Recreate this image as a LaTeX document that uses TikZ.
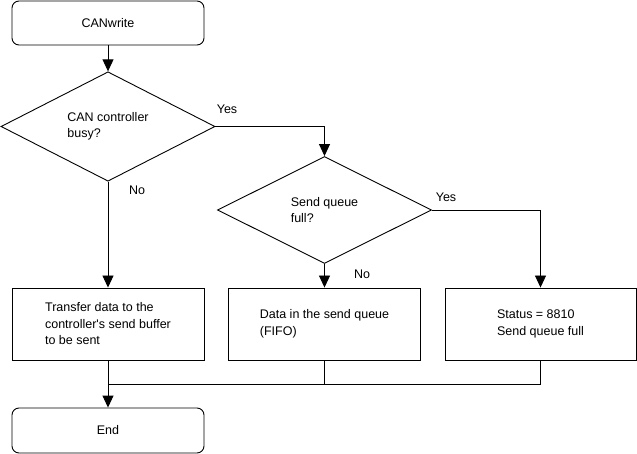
\documentclass[tikz,border=0pt]{standalone}
\usepackage{fontspec}
\setmainfont{Liberation Sans}
\usetikzlibrary{shapes.geometric,arrows.meta}
\begin{document}
\begin{tikzpicture}[x=1pt,y=-1pt,
  every node/.style={font=\fontsize{12.5}{16.5}\selectfont},
  line/.style={draw=black,line width=0.9pt},
  arr/.style={line,-{Triangle[width=11pt,length=12pt]}},
  term/.style={line,rounded corners=7pt,minimum width=192pt,inner sep=0pt},
  proc/.style={line,minimum width=192pt,minimum height=72pt,align=left,inner sep=0pt},
  dec/.style={line,diamond,minimum width=214pt,minimum height=107pt,align=left,inner sep=0pt},
  lbl/.style={inner sep=0pt}]
\useasboundingbox (0,0) rectangle (637,454);
\node[term,minimum height=44pt] (start) at (108,23) {CANwrite};
\node[dec] (d1) at (108,126.5) {CAN controller\\busy?};
\node[dec] (d2) at (324.5,210) {Send queue\\full?};
\node[proc] (b1) at (108,324) {Transfer data to the\\controller\textquotesingle s send buffer\\to be sent};
\node[proc] (b2) at (324.5,324) {Data in the send queue\\(FIFO)};
\node[proc,minimum width=191pt] (b3) at (540.5,324) {Status = 8810\\Send queue full};
\node[term,minimum height=45pt] (endn) at (108,430.5) {End};
\coordinate (j1) at (108,384);
\node[lbl] (y1) at (227,109) {Yes};
\node[lbl] (n1) at (137,190) {No};
\node[lbl] (y2) at (446,197) {Yes};
\node[lbl] (n2) at (362,274) {No};
\draw[arr] (start.south) -- (d1.north);
\draw[arr] (d1.east) -| (d2.north);
\draw[arr] (d1.south) -- (b1.north);
\draw[arr] (d2.east) -| (b3.north);
\draw[arr] (d2.south) -- (b2.north);
\draw[line] (b3.south) |- (j1);
\draw[line] (b2.south) -- (b2.south |- j1);
\draw[line] (b1.south) -- (j1);
\draw[arr] (j1) -- (endn.north);
\end{tikzpicture}
\end{document}
